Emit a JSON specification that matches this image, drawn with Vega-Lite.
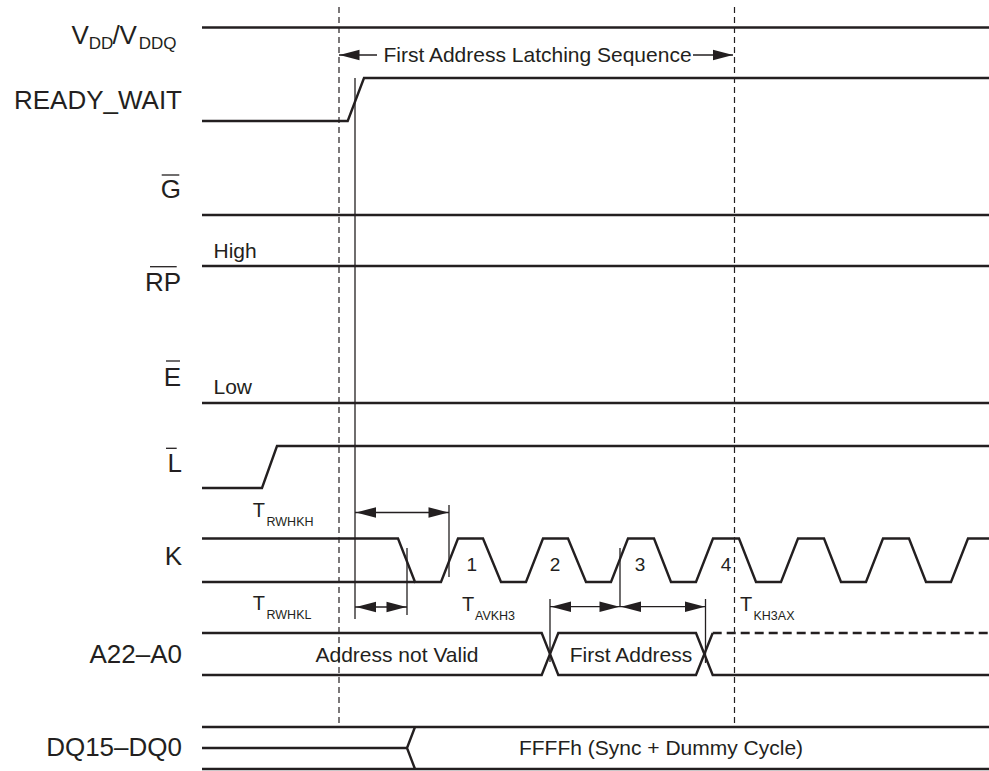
{
  "$schema": "https://vega.github.io/schema/vega-lite/v6.json",
  "width": 989,
  "height": 771,
  "autosize": "none",
  "padding": 0,
  "background": "white",
  "config": {
    "view": {"stroke": null},
    "text": {"font": "Liberation Sans", "color": "#231f20"},
    "line": {"color": "#231f20", "strokeJoin": "miter"}
  },
  "datasets": {
    "signals": [
      {"path": "vdd", "i": 0, "x": 202, "y": 27.5}, {"path": "vdd", "i": 1, "x": 989, "y": 27.5},
      {"path": "rw", "i": 0, "x": 202, "y": 121}, {"path": "rw", "i": 1, "x": 347.7, "y": 121},
      {"path": "rw", "i": 2, "x": 364, "y": 78}, {"path": "rw", "i": 3, "x": 989, "y": 78},
      {"path": "g", "i": 0, "x": 202, "y": 215}, {"path": "g", "i": 1, "x": 989, "y": 215},
      {"path": "rp", "i": 0, "x": 202, "y": 266}, {"path": "rp", "i": 1, "x": 989, "y": 266},
      {"path": "e", "i": 0, "x": 202, "y": 403}, {"path": "e", "i": 1, "x": 989, "y": 403},
      {"path": "l", "i": 0, "x": 202, "y": 488}, {"path": "l", "i": 1, "x": 262, "y": 488},
      {"path": "l", "i": 2, "x": 277, "y": 446}, {"path": "l", "i": 3, "x": 989, "y": 446},
      {"path": "klow", "i": 0, "x": 202, "y": 582}, {"path": "klow", "i": 1, "x": 415, "y": 582},
      {"path": "k", "i": 0, "x": 202, "y": 538.5}, {"path": "k", "i": 1, "x": 398, "y": 538.5},
      {"path": "k", "i": 2, "x": 415, "y": 582}, {"path": "k", "i": 3, "x": 441, "y": 582},
      {"path": "k", "i": 4, "x": 458, "y": 538.5}, {"path": "k", "i": 5, "x": 483, "y": 538.5},
      {"path": "k", "i": 6, "x": 501, "y": 582}, {"path": "k", "i": 7, "x": 526, "y": 582},
      {"path": "k", "i": 8, "x": 543, "y": 538.5}, {"path": "k", "i": 9, "x": 568, "y": 538.5},
      {"path": "k", "i": 10, "x": 586, "y": 582}, {"path": "k", "i": 11, "x": 611, "y": 582},
      {"path": "k", "i": 12, "x": 628, "y": 538.5}, {"path": "k", "i": 13, "x": 654, "y": 538.5},
      {"path": "k", "i": 14, "x": 671, "y": 582}, {"path": "k", "i": 15, "x": 696, "y": 582},
      {"path": "k", "i": 16, "x": 713, "y": 538.5}, {"path": "k", "i": 17, "x": 739, "y": 538.5},
      {"path": "k", "i": 18, "x": 756, "y": 582}, {"path": "k", "i": 19, "x": 781, "y": 582},
      {"path": "k", "i": 20, "x": 798, "y": 538.5}, {"path": "k", "i": 21, "x": 824, "y": 538.5},
      {"path": "k", "i": 22, "x": 841, "y": 582}, {"path": "k", "i": 23, "x": 866, "y": 582},
      {"path": "k", "i": 24, "x": 883, "y": 538.5}, {"path": "k", "i": 25, "x": 909, "y": 538.5},
      {"path": "k", "i": 26, "x": 926, "y": 582}, {"path": "k", "i": 27, "x": 951, "y": 582},
      {"path": "k", "i": 28, "x": 968, "y": 538.5}, {"path": "k", "i": 29, "x": 989, "y": 538.5},
      {"path": "a1", "i": 0, "x": 202, "y": 633}, {"path": "a1", "i": 1, "x": 541.7, "y": 633},
      {"path": "a1", "i": 2, "x": 558.3, "y": 675}, {"path": "a1", "i": 3, "x": 696, "y": 675},
      {"path": "a1", "i": 4, "x": 712.7, "y": 633},
      {"path": "a2", "i": 0, "x": 202, "y": 675}, {"path": "a2", "i": 1, "x": 541.7, "y": 675},
      {"path": "a2", "i": 2, "x": 558.3, "y": 633}, {"path": "a2", "i": 3, "x": 696, "y": 633},
      {"path": "a2", "i": 4, "x": 712.7, "y": 675}, {"path": "a2", "i": 5, "x": 989, "y": 675},
      {"path": "dqtop", "i": 0, "x": 202, "y": 727}, {"path": "dqtop", "i": 1, "x": 989, "y": 727},
      {"path": "dqbot", "i": 0, "x": 202, "y": 769}, {"path": "dqbot", "i": 1, "x": 989, "y": 769},
      {"path": "dqmid", "i": 0, "x": 202, "y": 748}, {"path": "dqmid", "i": 1, "x": 407, "y": 748},
      {"path": "dqlt", "i": 0, "x": 415, "y": 727}, {"path": "dqlt", "i": 1, "x": 407, "y": 748},
      {"path": "dqlt", "i": 2, "x": 415, "y": 769}
    ],
    "busdash": [
      {"path": "a3", "i": 0, "x": 712.7, "y": 633}, {"path": "a3", "i": 1, "x": 989, "y": 633}
    ],
    "guides": [
      {"path": "d1", "i": 0, "x": 339, "y": 7}, {"path": "d1", "i": 1, "x": 339, "y": 726},
      {"path": "d2", "i": 0, "x": 734.5, "y": 7}, {"path": "d2", "i": 1, "x": 734.5, "y": 724}
    ],
    "markers": [
      {"path": "v355", "i": 0, "x": 355, "y": 78}, {"path": "v355", "i": 1, "x": 355, "y": 619},
      {"path": "t449", "i": 0, "x": 449, "y": 505}, {"path": "t449", "i": 1, "x": 449, "y": 577},
      {"path": "t407", "i": 0, "x": 407, "y": 548}, {"path": "t407", "i": 1, "x": 407, "y": 615},
      {"path": "t550", "i": 0, "x": 550, "y": 599}, {"path": "t550", "i": 1, "x": 550, "y": 662},
      {"path": "t620", "i": 0, "x": 620, "y": 548}, {"path": "t620", "i": 1, "x": 620, "y": 607},
      {"path": "t705", "i": 0, "x": 705.5, "y": 599}, {"path": "t705", "i": 1, "x": 705.5, "y": 663},
      {"path": "arwhkh", "i": 0, "x": 355, "y": 512.5}, {"path": "arwhkh", "i": 1, "x": 449, "y": 512.5},
      {"path": "arwhkl", "i": 0, "x": 355, "y": 607}, {"path": "arwhkl", "i": 1, "x": 407, "y": 607},
      {"path": "aav1", "i": 0, "x": 550, "y": 606.7}, {"path": "aav1", "i": 1, "x": 620, "y": 606.7},
      {"path": "aav2", "i": 0, "x": 620, "y": 606.7}, {"path": "aav2", "i": 1, "x": 705.5, "y": 606.7},
      {"path": "seql", "i": 0, "x": 339, "y": 55}, {"path": "seql", "i": 1, "x": 377, "y": 55},
      {"path": "seqr", "i": 0, "x": 693, "y": 55}, {"path": "seqr", "i": 1, "x": 733, "y": 55},
      {"path": "og", "i": 0, "x": 161.7, "y": 175}, {"path": "og", "i": 1, "x": 179.3, "y": 175},
      {"path": "orp", "i": 0, "x": 150, "y": 266.7}, {"path": "orp", "i": 1, "x": 176.7, "y": 266.7},
      {"path": "oe", "i": 0, "x": 166, "y": 361}, {"path": "oe", "i": 1, "x": 180, "y": 361},
      {"path": "ol", "i": 0, "x": 166, "y": 448.3}, {"path": "ol", "i": 1, "x": 176.7, "y": 448.3}
    ],
    "heads": [
      {"x": 339.5, "y": 55, "dir": "L"}, {"x": 733, "y": 55, "dir": "R"},
      {"x": 356, "y": 512.5, "dir": "L"}, {"x": 448.5, "y": 512.5, "dir": "R"},
      {"x": 356, "y": 607, "dir": "L"}, {"x": 406.5, "y": 607, "dir": "R"},
      {"x": 551, "y": 606.7, "dir": "L"}, {"x": 619.5, "y": 606.7, "dir": "R"},
      {"x": 621, "y": 606.7, "dir": "L"}, {"x": 705, "y": 606.7, "dir": "R"}
    ],
    "texts": [
      {"k": "name", "t": "READY_WAIT", "x": 182, "y": 109.3},
      {"k": "name", "t": "G", "x": 181, "y": 198.3},
      {"k": "name", "t": "RP", "x": 181, "y": 291.3},
      {"k": "name", "t": "E", "x": 181, "y": 385.5},
      {"k": "name", "t": "L", "x": 182, "y": 471.7},
      {"k": "name", "t": "K", "x": 182, "y": 565},
      {"k": "name", "t": "A22–A0", "x": 182, "y": 662.7},
      {"k": "name", "t": "DQ15–DQ0", "x": 182, "y": 755.7},
      {"k": "big", "t": "V", "x": 71.5, "y": 43.5},
      {"k": "big", "t": "/", "x": 112.5, "y": 43.5},
      {"k": "big", "t": "V", "x": 119.5, "y": 43.5},
      {"k": "vsub", "t": "DD", "x": 88.7, "y": 49.3},
      {"k": "vsub", "t": "DDQ", "x": 138.7, "y": 49.3},
      {"k": "note", "t": "High", "x": 213.5, "y": 258.3},
      {"k": "note", "t": "Low", "x": 213.5, "y": 394.3},
      {"k": "mid", "t": "First Address Latching Sequence", "x": 537.5, "y": 61.7},
      {"k": "mid", "t": "Address not Valid", "x": 397, "y": 662.3},
      {"k": "mid", "t": "First Address", "x": 631, "y": 661.7},
      {"k": "mid", "t": "FFFFh (Sync + Dummy Cycle)", "x": 661, "y": 755},
      {"k": "num", "t": "1", "x": 471.7, "y": 571},
      {"k": "num", "t": "2", "x": 555, "y": 571},
      {"k": "num", "t": "3", "x": 640, "y": 571},
      {"k": "num", "t": "4", "x": 726, "y": 571},
      {"k": "T", "t": "T", "x": 252.7, "y": 516.7},
      {"k": "T", "t": "T", "x": 252.7, "y": 610},
      {"k": "T", "t": "T", "x": 462, "y": 611},
      {"k": "T", "t": "T", "x": 740, "y": 611},
      {"k": "sub", "t": "RWHKH", "x": 266.5, "y": 526},
      {"k": "sub", "t": "RWHKL", "x": 266.5, "y": 619},
      {"k": "sub", "t": "AVKH3", "x": 475, "y": 620},
      {"k": "sub", "t": "KH3AX", "x": 753.5, "y": 620}
    ]
  },
  "encoding": {
    "x": {"field": "x", "type": "quantitative", "scale": {"domain": [0, 989], "nice": false, "zero": false}, "axis": null},
    "y": {"field": "y", "type": "quantitative", "scale": {"domain": [0, 771], "nice": false, "zero": false, "reverse": true}, "axis": null}
  },
  "layer": [
    {
      "data": {"name": "guides"},
      "mark": {"type": "line", "strokeWidth": 1.2, "strokeDash": [6, 4]},
      "encoding": {"detail": {"field": "path"}, "order": {"field": "i", "type": "quantitative"}}
    },
    {
      "data": {"name": "markers"},
      "mark": {"type": "line", "strokeWidth": 1.3},
      "encoding": {"detail": {"field": "path"}, "order": {"field": "i", "type": "quantitative"}}
    },
    {
      "data": {"name": "signals"},
      "mark": {"type": "line", "strokeWidth": 2.4},
      "encoding": {"detail": {"field": "path"}, "order": {"field": "i", "type": "quantitative"}}
    },
    {
      "data": {"name": "busdash"},
      "mark": {"type": "line", "strokeWidth": 2.4, "strokeDash": [9, 5]},
      "encoding": {"detail": {"field": "path"}, "order": {"field": "i", "type": "quantitative"}}
    },
    {
      "data": {"name": "heads"},
      "mark": {"type": "point", "filled": true, "size": 400, "color": "#231f20", "opacity": 1, "strokeWidth": 0},
      "encoding": {
        "shape": {
          "field": "dir",
          "type": "nominal",
          "scale": {"domain": ["L", "R"], "range": ["M0,0L2,-0.53L2,0.53Z", "M0,0L-2,-0.53L-2,0.53Z"]},
          "legend": null
        }
      }
    },
    {
      "data": {"name": "texts"},
      "transform": [{"filter": "datum.k === 'name'"}],
      "mark": {"type": "text", "align": "right", "baseline": "alphabetic", "fontSize": 26},
      "encoding": {"text": {"field": "t"}}
    },
    {
      "data": {"name": "texts"},
      "transform": [{"filter": "datum.k === 'big'"}],
      "mark": {"type": "text", "align": "left", "baseline": "alphabetic", "fontSize": 26},
      "encoding": {"text": {"field": "t"}}
    },
    {
      "data": {"name": "texts"},
      "transform": [{"filter": "datum.k === 'vsub'"}],
      "mark": {"type": "text", "align": "left", "baseline": "alphabetic", "fontSize": 17},
      "encoding": {"text": {"field": "t"}}
    },
    {
      "data": {"name": "texts"},
      "transform": [{"filter": "datum.k === 'note'"}],
      "mark": {"type": "text", "align": "left", "baseline": "alphabetic", "fontSize": 21},
      "encoding": {"text": {"field": "t"}}
    },
    {
      "data": {"name": "texts"},
      "transform": [{"filter": "datum.k === 'mid'"}],
      "mark": {"type": "text", "align": "center", "baseline": "alphabetic", "fontSize": 21},
      "encoding": {"text": {"field": "t"}}
    },
    {
      "data": {"name": "texts"},
      "transform": [{"filter": "datum.k === 'num'"}],
      "mark": {"type": "text", "align": "center", "baseline": "alphabetic", "fontSize": 19},
      "encoding": {"text": {"field": "t"}}
    },
    {
      "data": {"name": "texts"},
      "transform": [{"filter": "datum.k === 'T'"}],
      "mark": {"type": "text", "align": "left", "baseline": "alphabetic", "fontSize": 20},
      "encoding": {"text": {"field": "t"}}
    },
    {
      "data": {"name": "texts"},
      "transform": [{"filter": "datum.k === 'sub'"}],
      "mark": {"type": "text", "align": "left", "baseline": "alphabetic", "fontSize": 12.5},
      "encoding": {"text": {"field": "t"}}
    }
  ]
}
